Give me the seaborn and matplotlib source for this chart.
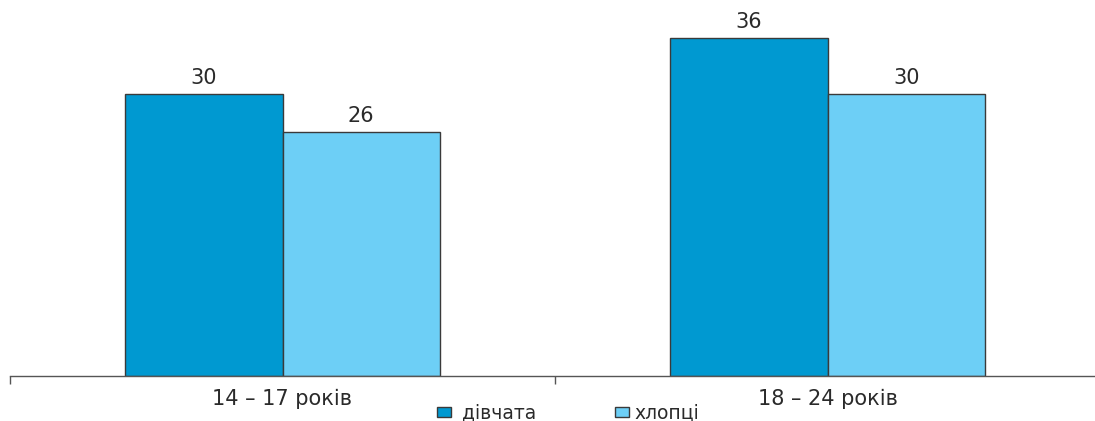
import matplotlib
matplotlib.use("Agg")
import matplotlib.pyplot as plt
import seaborn as sns
import pandas as pd
from matplotlib.patches import Patch

# Age groups and shares by sex
categories = ["14 – 17 років", "18 – 24 років"]
series_names = ["дівчата", "хлопці"]
girls = [30, 36]
boys = [26, 30]
colors = ["#0099D1", "#6DCFF6"]

df = pd.DataFrame({
    "age": categories * 2,
    "sex": [series_names[0]] * 2 + [series_names[1]] * 2,
    "value": girls + boys,
})

sns.set_theme(style="white")
plt.rcParams["font.family"] = ["DejaVu Sans"]

fig = plt.figure(figsize=(10.95, 4.21), dpi=100)
ax = fig.add_axes([10 / 1095, 45 / 421, 1090 / 1095, 376 / 421])

sns.barplot(data=df, x="age", y="value", hue="sex", order=categories,
            hue_order=series_names, palette=colors, width=0.578, gap=0,
            edgecolor="#3a3a3a", linewidth=1.0, saturation=1, legend=False, ax=ax)

for container in ax.containers:
    ax.bar_label(container, fmt="%d", padding=4, fontsize=15, color="#2a2a2a")

ax.set_ylim(0, 40)
ax.set_xlim(-0.5, 1.5)
ax.set_xlabel("")
ax.set_ylabel("")
ax.set_yticks([])

# Boundary tick marks between groups, labels at group centres
ax.set_xticks([-0.5, 0.5, 1.5])
ax.set_xticklabels([])
ax.tick_params(axis="x", which="major", direction="out", length=6, width=1, color="#555555", bottom=True)
ax.set_xticks([0, 1], minor=True)
ax.set_xticklabels(categories, minor=True, fontsize=15, color="#2a2a2a")
ax.tick_params(axis="x", which="minor", length=0, pad=9)

for side in ["left", "right", "top"]:
    ax.spines[side].set_visible(False)
ax.spines["bottom"].set_color("#555555")
ax.spines["bottom"].set_linewidth(1)

handles = [Patch(facecolor=c, edgecolor="#3a3a3a", linewidth=1) for c in colors]
legend_labels = [" " + series_names[0], series_names[1]]
fig.legend(handles, legend_labels, loc="center", bbox_to_anchor=(568 / 1095, 1 - 413 / 421),
           ncol=2, frameon=False, fontsize=13.5, handlelength=0.72, handleheight=0.5,
           handletextpad=0.3, columnspacing=4.2, labelcolor="#2a2a2a")

fig.savefig("out.png", dpi=100)
